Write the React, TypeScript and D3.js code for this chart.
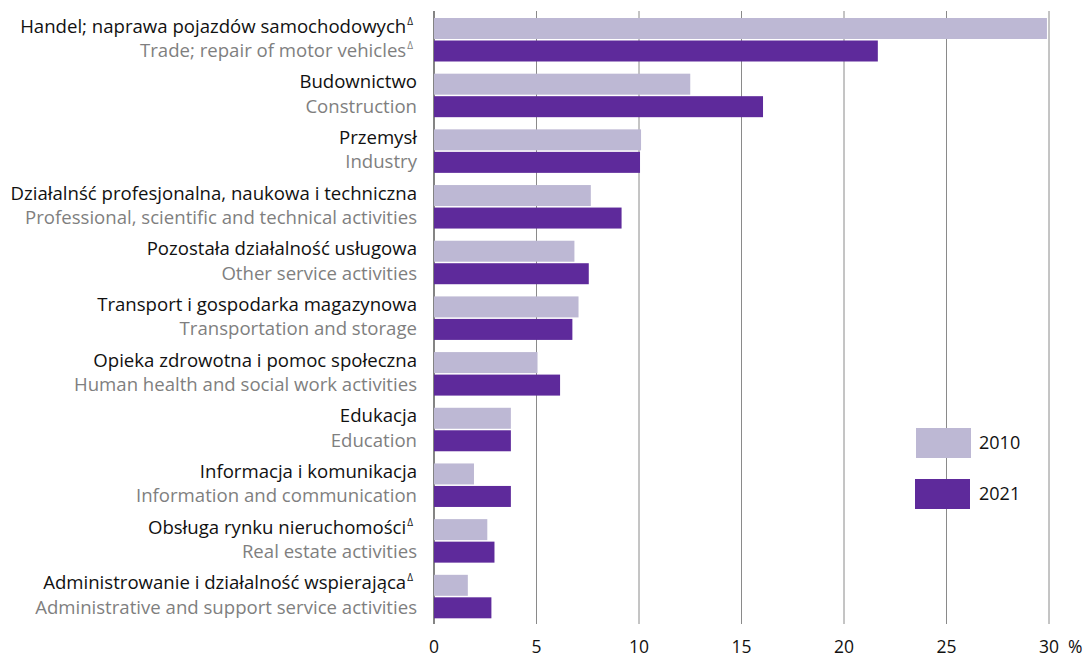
import React from "react";
import * as d3 from "d3";

const categoriesPl = [
  "Handel; naprawa pojazdów samochodowych",
  "Budownictwo",
  "Przemysł",
  "Działalnść profesjonalna, naukowa i techniczna",
  "Pozostała działalność usługowa",
  "Transport i gospodarka magazynowa",
  "Opieka zdrowotna i pomoc społeczna",
  "Edukacja",
  "Informacja i komunikacja",
  "Obsługa rynku nieruchomości",
  "Administrowanie i działalność wspierająca",
];
const categoriesEn = [
  "Trade; repair of motor vehicles",
  "Construction",
  "Industry",
  "Professional, scientific and technical activities",
  "Other service activities",
  "Transportation and storage",
  "Human health and social work activities",
  "Education",
  "Information and communication",
  "Real estate activities",
  "Administrative and support service activities",
];
const plMark = [true, false, false, false, false, false, false, false, false, true, true];
const enMark = [true, false, false, false, false, false, false, false, false, false, false];
const values2010 = [29.9, 12.5, 10.1, 7.65, 6.85, 7.05, 5.05, 3.75, 1.95, 2.6, 1.65];
const values2021 = [21.65, 16.05, 10.05, 9.15, 7.55, 6.75, 6.15, 3.75, 3.75, 2.95, 2.8];
const xTicks = [0, 5, 10, 15, 20, 25, 30];
const seriesNames = ["2010", "2021"];
const colors = ["#bdb8d4", "#5e2a9b"];

const W = 1089;
const H = 658;
const FONT = "'Open Sans', sans-serif";
const FS = 18.6;

export default function App() {
  const x = d3.scaleLinear().domain([0, 30]).range([434, 1049]);
  const y = d3
    .scaleBand<number>()
    .domain(d3.range(categoriesPl.length))
    .range([16.5, 629])
    .paddingInner(0)
    .paddingOuter(0);
  const barH = 21;
  return (
    <svg
      width={W}
      height={H}
      style={{ position: "absolute", left: 0, top: 0, background: "#fff" }}
      fontFamily={FONT}
    >
      {xTicks.map((t) => (
        <line
          key={t}
          x1={x(t)}
          x2={x(t)}
          y1={11}
          y2={624}
          stroke={t === 0 ? "#666" : "#8a8a8a"}
          strokeWidth={t === 0 ? 1.6 : 1}
        />
      ))}
      {categoriesPl.map((_, i) => {
        const y0 = (y(i) as number) + 1.5;
        return (
          <g key={i}>
            <rect x={x(0)} y={y0} width={x(values2010[i]) - x(0)} height={barH} fill={colors[0]} />
            <rect x={x(0)} y={y0 + barH + 1.5} width={x(values2021[i]) - x(0)} height={barH} fill={colors[1]} />
          </g>
        );
      })}
      {categoriesPl.map((c, i) => {
        const y0 = y(i) as number;
        return (
          <g key={"l" + i}>
            <text x={plMark[i] ? 413 : 417} y={y0 + 16} textAnchor="end" fontSize={FS} fill="#111">
              {c}
              {plMark[i] && (
                <tspan fontSize={10} dx={1} dy={-8}>
                  Δ
                </tspan>
              )}
            </text>
            <text x={enMark[i] ? 413 : 417} y={y0 + 40.5} textAnchor="end" fontSize={FS} fill="#7f7f7f">
              {categoriesEn[i]}
              {enMark[i] && (
                <tspan fontSize={10} dx={1} dy={-8}>
                  Δ
                </tspan>
              )}
            </text>
          </g>
        );
      })}
      {xTicks.map((t) => (
        <text key={"t" + t} x={x(t)} y={653} textAnchor="middle" fontSize={17.5} fill="#111">
          {t}
        </text>
      ))}
      <text x={1068} y={653} fontSize={17.5} fill="#111">%</text>
      {seriesNames.map((s, i) => (
        <g key={s}>
          <rect x={916 - i} y={428 + i * 51} width={55} height={30} fill={colors[i]} />
          <text x={979} y={449 + i * 51} fontSize={18} fill="#111">
            {s}
          </text>
        </g>
      ))}
    </svg>
  );
}
